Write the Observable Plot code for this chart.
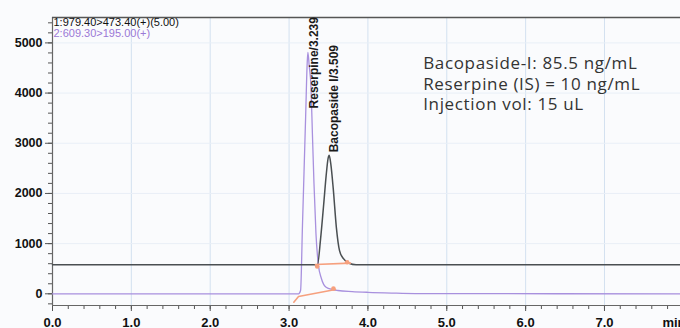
<!DOCTYPE html>
<html><head><meta charset="utf-8">
<script src="https://cdn.jsdelivr.net/npm/d3@7"></script>
<script src="https://cdn.jsdelivr.net/npm/@observablehq/plot@0.6"></script>
<style>
html,body{margin:0;padding:0;background:#fafbfd;}
</style></head><body><div id="chart"></div>
<script>
// Tick values / labels
const xTicks = [0, 1, 2, 3, 4, 5, 6, 7];
const xMinorTicks = d3.range(0, 7.97, 0.2);
const xUnitLabel = "min";
const yTicks = [0, 1000, 2000, 3000, 4000, 5000];
const yMinorTicks = d3.range(-200, 5500, 200);
const xDomain = [0, 7.964];
const yDomain = [-233, 5506];

// Trace 1 (979.40>473.40, offset baseline) - Bacopaside I
const trace1Time  = [0, 3.36, 3.40, 3.44, 3.47, 3.495, 3.509, 3.53, 3.56, 3.60, 3.64, 3.69, 3.76, 3.85, 7.964];
const trace1Value = [578, 580, 1100, 1800, 2350, 2700, 2759, 2580, 2100, 1320, 860, 700, 610, 580, 578];

// Trace 2 (609.30>195.00) - Reserpine
const trace2Time  = [0, 3.12, 3.146, 3.17, 3.19, 3.21, 3.23, 3.239, 3.255, 3.278, 3.296, 3.316, 3.341, 3.37, 3.41, 3.47, 3.55, 3.62, 3.8, 4.0, 4.3, 4.6, 7.964];
const trace2Value = [0, 0, 66, 1360, 2440, 3520, 4600, 4810, 4550, 4120, 3190, 2200, 1200, 600, 305, 130, 85, 66, 45, 30, 15, 5, 0];

// Integration baselines
const integ1Time  = [3.335, 3.779];
const integ1Value = [585, 611];
const integ2Time  = [3.06, 3.12, 3.589];
const integ2Value = [-168, -54, 86];
const markTime  = [3.357, 3.737, 3.563];
const markValue = [545, 630, 106];

// Peak labels
const peakNames = ["Reserpine/3.239", "Bacopaside I/3.509"];
const peakTime  = [3.239, 3.509];
const peakValue = [4810, 2759];

// Header labels & info
const header1 = "1:979.40>473.40(+)(5.00)";
const header2 = "2:609.30>195.00(+)";
const infoLines = ["Bacopaside-I: 85.5 ng/mL", "Reserpine (IS) = 10 ng/mL", "Injection vol: 15 uL"];

const t1 = trace1Time.map((t, i) => ({t, v: trace1Value[i]}));
const t2 = trace2Time.map((t, i) => ({t, v: trace2Value[i]}));
const i1 = integ1Time.map((t, i) => ({t, v: integ1Value[i]}));
const i2 = integ2Time.map((t, i) => ({t, v: integ2Value[i]}));
const mk = markTime.map((t, i) => ({t, v: markValue[i]}));
const peaks = peakNames.map((name, i) => ({name, t: peakTime[i], v: peakValue[i]}));

const chart = Plot.plot({
  width: 680, height: 328,
  marginLeft: 52, marginRight: 0, marginTop: 17, marginBottom: 23,
  x: {domain: xDomain, axis: null},
  y: {domain: yDomain, axis: null},
  style: {fontFamily: "'Liberation Sans', Arial, sans-serif", background: "#fafbfd"},
  marks: [
    Plot.ruleX(xTicks.slice(1), {stroke: "#d3e1f0", strokeWidth: 1}),
    Plot.ruleY(yTicks.slice(1), {stroke: "#e9eff7", strokeWidth: 1}),
    // axes (ticks)
    Plot.axisY(yMinorTicks, {tickSize: 4, tickFormat: () => "", stroke: "#555", label: null}),
    Plot.axisY(yTicks, {tickSize: 7, tickFormat: () => "", stroke: "#555", label: null}),
    Plot.axisX(xMinorTicks, {anchor: "bottom", tickSize: 4, tickFormat: () => "", stroke: "#555", label: null}),
    Plot.axisX(xTicks, {anchor: "bottom", tickSize: 6, tickFormat: () => "", stroke: "#555", label: null}),
    // tick labels
    Plot.text(yTicks, {x: xDomain[0], y: d => d, text: d => String(d), textAnchor: "end", lineAnchor: "middle", dx: -10,
      fontSize: 12.5, fontWeight: "bold", fill: "#111"}),
    Plot.text(xTicks, {x: d => d, y: yDomain[0], text: d => d.toFixed(1), textAnchor: "middle", lineAnchor: "top", dy: 12,
      fontSize: 13, fontWeight: "bold", fill: "#111"}),
    Plot.text([xUnitLabel], {x: xDomain[1], y: yDomain[0], textAnchor: "end", lineAnchor: "top", dy: 12, dx: 5,
      fontSize: 13, fontWeight: "bold", fill: "#111"}),
    Plot.ruleX([xDomain[0]], {stroke: "#666", strokeWidth: 1.2}),
    Plot.ruleY([yDomain[0]], {stroke: "#666", strokeWidth: 1.2}),
    Plot.ruleY([yDomain[1]], {stroke: "#555", strokeWidth: 1.5}),
    // traces
    Plot.line(t2, {x: "t", y: "v", stroke: "#a890de", strokeWidth: 1.3, curve: "monotone-x"}),
    Plot.line(t1, {x: "t", y: "v", stroke: "#4a4f52", strokeWidth: 1.5, curve: "monotone-x"}),
    Plot.line(i1, {x: "t", y: "v", stroke: "#f6a07e", strokeWidth: 1.6}),
    Plot.line(i2, {x: "t", y: "v", stroke: "#f6a07e", strokeWidth: 1.6}),
    Plot.dot(mk, {x: "t", y: "v", r: 2.3, fill: "#f6a07e", stroke: null}),
    // peak labels
    Plot.text(peaks.slice(0, 1), {x: "t", y: "v", text: "name", rotate: -90, textAnchor: "start", lineAnchor: "middle",
      dx: 6.6, dy: 56, fontSize: 12, fontWeight: "bold", fill: "#1a1a1a"}),
    Plot.text(peaks.slice(1, 2), {x: "t", y: "v", text: "name", rotate: -90, textAnchor: "start", lineAnchor: "middle",
      dx: 5, dy: -3, fontSize: 12, fontWeight: "bold", fill: "#1a1a1a"}),
    // headers
    Plot.text([header1], {frameAnchor: "top-left", textAnchor: "start", lineAnchor: "top", dx: 1, dy: 1, fontSize: 11, fill: "#111"}),
    Plot.text([header2], {frameAnchor: "top-left", textAnchor: "start", lineAnchor: "top", dx: 1, dy: 11.5, fontSize: 11, fill: "#9a78d6"}),
    Plot.text([infoLines.join("\n")], {frameAnchor: "top-left", textAnchor: "start", lineAnchor: "top", dx: 370.7, dy: 37,
      fontSize: 17, lineHeight: 1.21, fontFamily: "'Open Sans', sans-serif", fill: "#333"})
  ]
});
d3.select(chart).selectAll("text")
  .filter(function() { return this.textContent.includes("Bacopaside-I"); })
  .style("letter-spacing", "0.65px");
document.getElementById("chart").appendChild(chart);
</script>
</body></html>
